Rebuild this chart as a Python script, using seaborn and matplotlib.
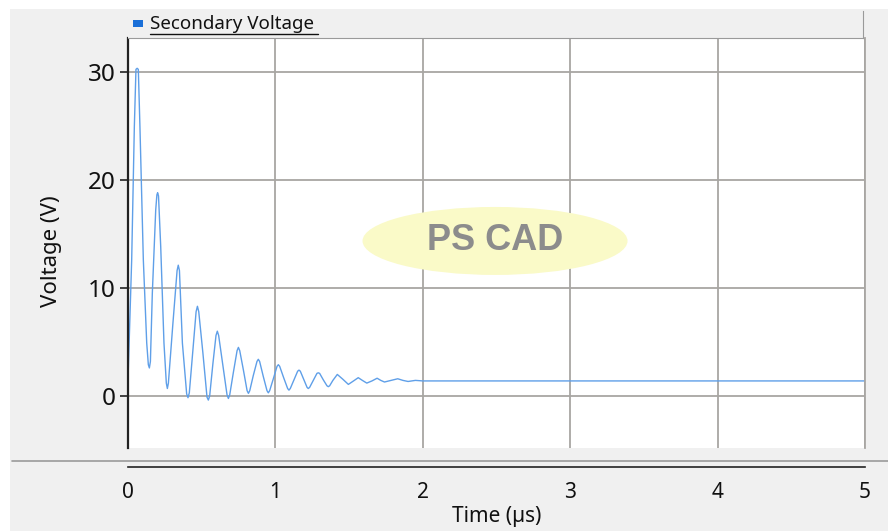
import numpy as np
import pandas as pd
import matplotlib
matplotlib.use('Agg')
import matplotlib.pyplot as plt
from matplotlib.patches import Ellipse, Rectangle
import seaborn as sns

# Secondary voltage (time in us, volts)
time_us = [0.000, 0.025, 0.043, 0.054, 0.062, 0.070, 0.081, 0.104, 0.127, 0.138,
           0.145, 0.152, 0.165, 0.188, 0.196, 0.201, 0.207, 0.222, 0.244, 0.260,
           0.267, 0.274, 0.304, 0.333, 0.341, 0.349, 0.369, 0.398, 0.407, 0.416,
           0.440, 0.462, 0.471, 0.480, 0.508, 0.536, 0.545, 0.554, 0.576, 0.597,
           0.606, 0.615, 0.643, 0.672, 0.681, 0.690, 0.715, 0.740, 0.749, 0.758,
           0.783, 0.808, 0.817, 0.826, 0.850, 0.875, 0.884, 0.893, 0.918, 0.943,
           0.952, 0.961, 0.986, 1.011, 1.020, 1.029, 1.056, 1.083, 1.092, 1.101,
           1.126, 1.151, 1.160, 1.169, 1.192, 1.215, 1.223, 1.232, 1.257, 1.282,
           1.291, 1.300, 1.325, 1.350, 1.359, 1.368, 1.390, 1.420, 1.458, 1.495,
           1.530, 1.562, 1.590, 1.620, 1.655, 1.690, 1.715, 1.740, 1.785, 1.830,
           1.865, 1.900, 1.950, 2.000, 2.500, 3.000, 4.000, 5.000]
voltage = [1.5, 12.6, 24.9, 30.2, 30.3, 30.2, 24.9, 12.6, 4.9, 2.9,
           2.6, 3.2, 9.5, 17.2, 18.6, 18.8, 18.5, 13.8, 4.9, 1.2,
           0.7, 1.2, 6.6, 11.6, 12.1, 11.6, 4.9, 0.2, -0.15, 0.3,
           4.2, 7.8, 8.3, 7.8, 4.0, -0.1, -0.37, 0.0, 3.0, 5.6,
           6.0, 5.6, 2.9, 0.1, -0.22, 0.1, 2.2, 4.2, 4.5, 4.2,
           2.4, 0.5, 0.25, 0.5, 1.9, 3.2, 3.4, 3.2, 1.8, 0.5,
           0.3, 0.5, 1.6, 2.75, 2.9, 2.75, 1.7, 0.7, 0.55, 0.7,
           1.5, 2.3, 2.4, 2.3, 1.55, 0.8, 0.7, 0.8, 1.45, 2.1,
           2.15, 2.1, 1.5, 0.95, 0.87, 0.95, 1.45, 2.0, 1.55, 1.08,
           1.4, 1.7, 1.45, 1.2, 1.4, 1.65, 1.45, 1.3, 1.45, 1.6,
           1.45, 1.35, 1.45, 1.4, 1.4, 1.4, 1.4, 1.4]
x_ticks = [0, 1, 2, 3, 4, 5]
y_ticks = [0, 10, 20, 30]
series_name = 'Secondary Voltage'

df = pd.DataFrame({'Time': time_us, 'Voltage': voltage})

sns.set_style('white')
plt.rcParams['font.family'] = ['Noto Sans', 'DejaVu Sans']

W, H = 888, 531
fig = plt.figure(figsize=(W / 100, H / 100), dpi=100)
fig.patch.set_facecolor('#f0f0f0')

# white frame round the grey window
fig.add_artist(Rectangle((0, 1 - 9 / H), 1, 9 / H, transform=fig.transFigure,
                         facecolor='white', edgecolor='none'))
fig.add_artist(Rectangle((0, 0), 10 / W, 1, transform=fig.transFigure,
                         facecolor='white', edgecolor='none'))

# main plot area
ax = fig.add_axes([128 / W, 1 - 448 / H, 737 / W, 410 / H])
ax.set_facecolor('white')
sns.lineplot(data=df, x='Time', y='Voltage', ax=ax, color='#5f9fe8', linewidth=1.0)
ax.set_xlim(0, 5)
ax.set_ylim(-4.8, 33.1)
ax.set_xticks(x_ticks)
ax.set_yticks(y_ticks)
ax.set_xticklabels([])
ax.set_xlabel('')
ax.set_ylabel('Voltage (V)', fontsize=16, color='#111111')
ax.yaxis.set_label_coords(-0.09, 0.48)
ax.grid(True, color='#a8a6a3', linewidth=1.3)
ax.set_axisbelow(True)
ax.tick_params(axis='x', length=0)
ax.tick_params(axis='y', direction='out', length=6, width=1.2, color='#222222',
               labelsize=17.5, labelcolor='#111111', pad=3, left=True)
for side in ['top', 'bottom']:
    ax.spines[side].set_visible(False)
ax.spines['right'].set_color('#a8a6a3')
ax.spines['right'].set_linewidth(1.3)
ax.spines['left'].set_color('#222222')
ax.spines['left'].set_linewidth(1.6)

# PSCAD watermark
ax.add_patch(Ellipse((0.498, 0.505), 265 / 737, 68 / 410, transform=ax.transAxes,
                     facecolor='#fafac8', edgecolor='none', zorder=1.5))
ax.text(0.498, 0.505, 'PS CAD', transform=ax.transAxes, ha='center', va='center',
        fontsize=26, fontweight='bold', color='#8c8c8c', zorder=1.6,
        family=['Liberation Sans', 'DejaVu Sans'])

# legend bar above the plot
lax = fig.add_axes([128 / W, 1 - 38 / H, 735 / W, 27 / H])
lax.set_facecolor('#f0f0f0')
lax.set_xticks([])
lax.set_yticks([])
for side in ['top', 'left']:
    lax.spines[side].set_visible(False)
lax.spines['right'].set_color('#9a9a9a')
lax.spines['bottom'].set_color('#9a9a9a')
lax.set_xlim(0, 735)
lax.set_ylim(27, 0)
lax.add_patch(Rectangle((5, 9), 10, 7, facecolor='#1a6fd8', edgecolor='none'))
lax.text(22, 13, series_name, fontsize=13.5, va='center', ha='left', color='#111111')
lax.plot([22, 190], [23, 23], color='#111111', linewidth=1)

# separator between plot and time axis
fig.add_artist(plt.Line2D([12 / W, 1.0], [1 - 461 / H, 1 - 461 / H],
                          color='#9a9a9a', linewidth=1.2))

# separate time axis strip
xax = fig.add_axes([128 / W, 1 - 467 / H, 737 / W, 0.001])
xax.set_xlim(0, 5)
xax.set_xticks(x_ticks)
xax.set_yticks([])
xax.patch.set_alpha(0)
for side in ['top', 'left', 'right']:
    xax.spines[side].set_visible(False)
xax.spines['bottom'].set_color('#222222')
xax.spines['bottom'].set_linewidth(1.2)
xax.tick_params(axis='x', direction='out', length=5, width=1, labelsize=15,
                labelcolor='#111111', pad=6)
xax.set_xlabel('Time (\u00b5s)', fontsize=15, labelpad=2, color='#111111')

fig.savefig('out.png', dpi=100, facecolor=fig.get_facecolor())
